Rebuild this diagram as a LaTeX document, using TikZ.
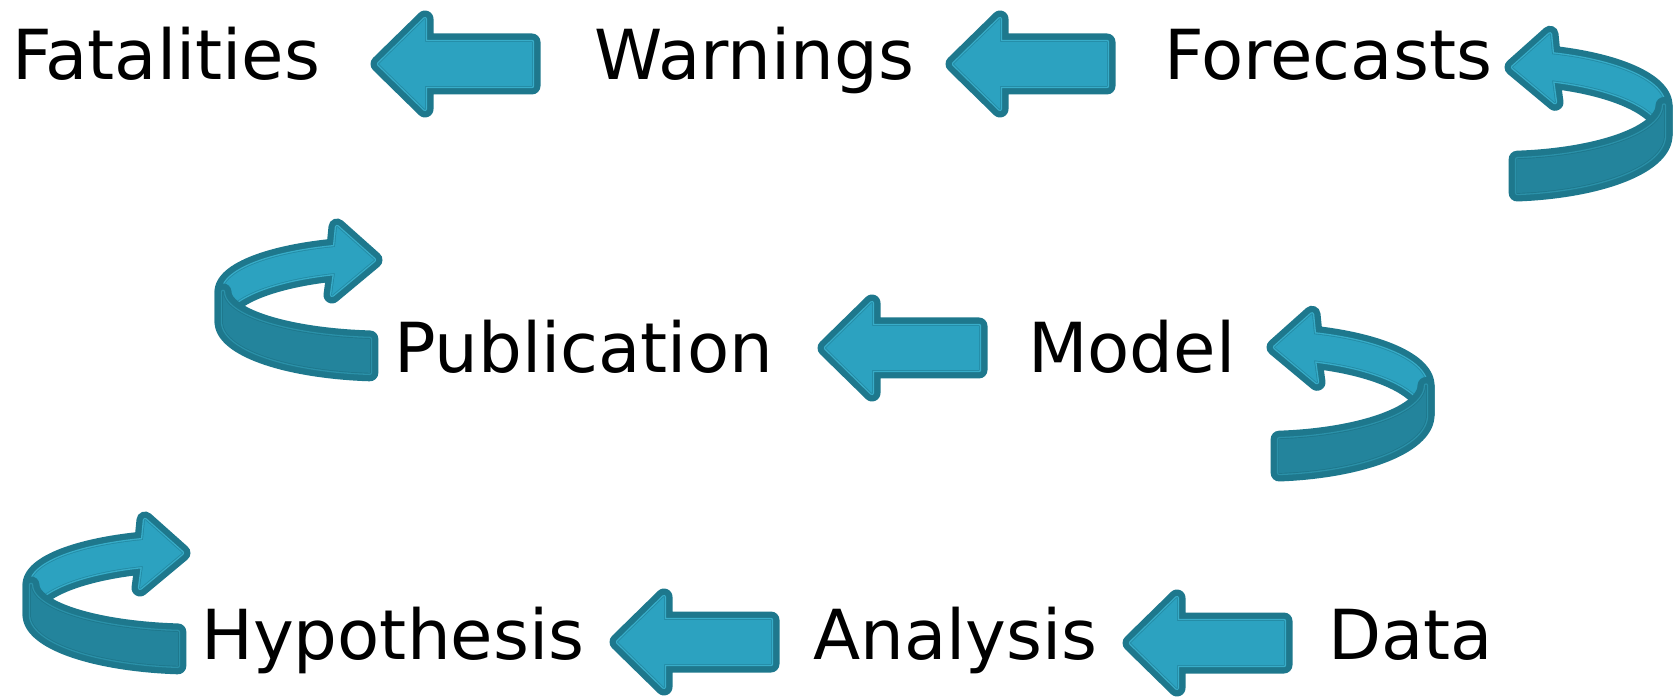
\documentclass[tikz,border=0pt]{standalone}
\usepackage{fontspec}
\setmainfont{DejaVu Sans}
\definecolor{arrfill}{HTML}{2CA2C0}
\definecolor{arrdark}{HTML}{1E788D}
\definecolor{arrband}{HTML}{38ADC9}
\definecolor{arrline}{HTML}{248CA6}
\definecolor{frfill}{HTML}{23849C}
\definecolor{frband}{HTML}{2B91A9}
\definecolor{frline}{HTML}{1E788D}
\tikzset{
  lbl/.style={font=\fontsize{69}{80}\selectfont, inner sep=0pt, anchor=base west, text=black},
  blockarrow/.style={fill=arrfill,
    preaction={draw=arrdark, line width=17pt, line join=round},
    preaction={draw=arrband, line width=4.4pt, line join=round},
    preaction={draw=arrline, line width=1.8pt, line join=round}},
  frontface/.style={fill=frfill,
    preaction={draw=arrdark, line width=17pt, line join=round},
    preaction={draw=frband, line width=4.4pt, line join=round},
    preaction={draw=frline, line width=1.8pt, line join=round}}
}
% straight block arrow: #1 = visual tip x, #2 = centre y
\newcommand\straightarrow[2]{%
  \begin{scope}[shift={(#1,#2)}]
    \path[blockarrow] (9,0) -- (55,45) -- (55,22) -- (162,22) -- (162,-22) -- (55,-22) -- (55,-45) -- cycle;
  \end{scope}}
% curved ribbon arrow: #1 x, #2 y, #3 xscale, #4 top radius, #5 bottom radius
\newcommand\curvarrow[5]{%
  \begin{scope}[shift={(#1,#2)}, xscale=#3]
    \pgfmathsetmacro\cvTop{#4*sin(71.6)}
    \pgfmathsetmacro\cvBot{-29.8+#5*sin(71.6)}
    \pgfmathsetmacro\cvMid{(\cvTop+\cvBot)/2}
    \path[blockarrow] (52,\cvTop) -- ({50},{\cvMid+33}) -- ({13},{\cvMid}) -- ({55},{\cvMid-35}) -- (52,\cvBot)
      -- plot[domain=71.6:0, samples=36] ({164*cos(\x)},{-29.8+#5*sin(\x)})
      -- plot[domain=0:71.6, samples=36] ({164*cos(\x)},{#4*sin(\x)}) -- cycle;
    \path[frontface] ({164*cos(-84)},{#4*sin(-84)})
      -- plot[domain=-84:0, samples=36] ({164*cos(\x)},{#4*sin(\x)})
      -- plot[domain=0:-84, samples=36] ({164*cos(\x)},{-29.8+#5*sin(\x)}) -- cycle;
  \end{scope}}
\begin{document}
\begin{tikzpicture}[x=1pt, y=1pt]
  \useasboundingbox[fill=white] (0,0) rectangle (1680,699);
  % labels
  \node[lbl] (fatalities) at (12,619) {Fatalities};
  \node[lbl] (warnings) at (594,619) {Warnings};
  \node[lbl] (forecasts) at (1164,619) {Forecasts};
  \node[lbl] (publication) at (394,326) {Publication};
  \node[lbl] (model) at (1028,326) {Model};
  \node[lbl] (hypothesis) at (201,40) {Hypothesis};
  \node[lbl] (analysis) at (813,40) {Analysis};
  \node[lbl] (data) at (1328,40) {Data};
  % straight arrows
  \straightarrow{370}{635}
  \straightarrow{945}{635}
  \straightarrow{817}{351}
  \straightarrow{609}{57}
  \straightarrow{1122}{56}
  % curved arrows
  \curvarrow{1500}{593.5}{1}{54}{58}
  \curvarrow{1262}{313.5}{1}{54}{58}
  \curvarrow{387}{407.1}{-1}{47.3}{51.4}
  \curvarrow{195}{114.1}{-1}{47.3}{51.4}
\end{tikzpicture}
\end{document}
